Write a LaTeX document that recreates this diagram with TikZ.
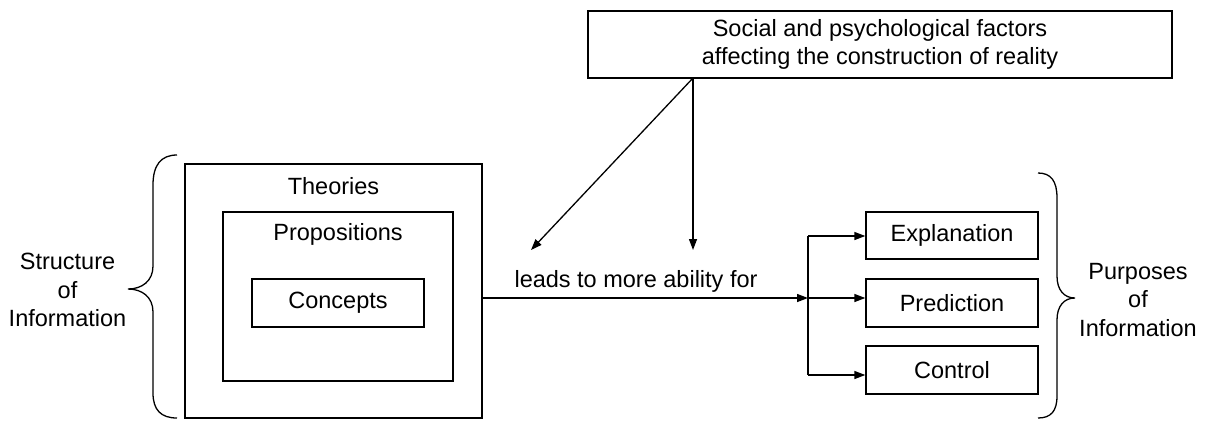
\documentclass[tikz,border=0pt]{standalone}
\usepackage{fontspec}
\setmainfont{Liberation Sans}
\usetikzlibrary{arrows.meta}
\begin{document}
\begin{tikzpicture}[x=1pt,y=-1pt,
  every node/.style={font=\fontsize{23.5}{28.5}\selectfont, inner sep=0pt},
  box/.style={draw, line width=1.3pt},
  label/.style={align=center},
  conn/.style={line width=1.3pt},
  arr/.style={conn, -{Triangle[length=11pt,width=8pt]}},
  brace/.style={line width=1.3pt}]
\useasboundingbox (0,0) rectangle (1209,421);

% nested structure boxes
\node[box, minimum width=297pt, minimum height=254pt] (theo) at (333.5,291) {};
\node (theotxt) at (333.5,186) {Theories};
\node[box, minimum width=230pt, minimum height=169pt] (prop) at (338,296.5) {};
\node (proptxt) at (338,234) {Propositions};
\node[box, minimum width=172pt, minimum height=48pt] (conc) at (338,303) {Concepts};

% influencing factors
\node[box, label, minimum width=584pt, minimum height=67pt] (soc) at (880,44.5)
  {Social and psychological factors\\affecting the construction of reality};

% purposes
\node[box, minimum width=172pt, minimum height=47pt] (expl) at (952,235.5) {Explanation};
\node[box, minimum width=172pt, minimum height=48pt] (pred) at (952,303) {Prediction};
\node[box, minimum width=172pt, minimum height=48pt] (ctrl) at (952,370) {Control};

% side labels
\node[label] (stru) at (67.5,290) {Structure\\of\\Information};
\node[label] (purp) at (1138,300) {Purposes\\of\\Information};
\node (lead) at (636,281) {leads to more ability for};

% routing points
\coordinate (src) at (693,78);
\coordinate (endv) at (693,250);
\coordinate (endd) at (531,250);
\coordinate (junc) at (808,298);
\coordinate (ja) at (808,236);
\coordinate (jc) at (808,375);

% connectors
\draw[arr] (src) -- (endv);
\draw[arr] (src) -- (endd);
\draw[arr] (theo.east |- junc) -- (junc);
\draw[conn] (ja) -- (jc);
\draw[arr] (ja) -- (expl.west |- ja);
\draw[arr] (junc) -- (pred.west |- junc);
\draw[arr] (jc) -- (ctrl.west |- jc);

% braces
\draw[brace] (177,155) .. controls (161,155) and (153,165) .. (153,185)
  -- (153,266) .. controls (153,281) and (142,289) .. (128,289)
  .. controls (142,289) and (153,297) .. (153,312)
  -- (153,393) .. controls (153,410) and (161,418) .. (177,418);
\draw[brace] (1038,173) .. controls (1051,173) and (1057,181) .. (1057,198)
  -- (1057,276) .. controls (1057,290) and (1064,298) .. (1075,298)
  .. controls (1064,298) and (1057,306) .. (1057,320)
  -- (1057,396) .. controls (1057,411) and (1051,418) .. (1038,418);
\end{tikzpicture}
\end{document}
